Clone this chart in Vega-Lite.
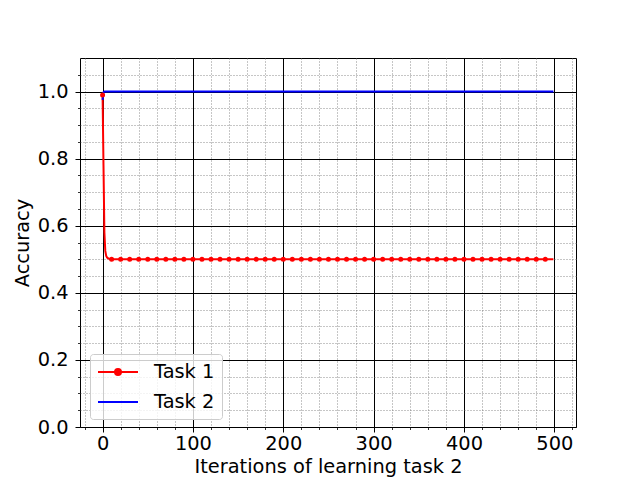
{
  "$schema": "https://vega.github.io/schema/vega-lite/v6.json",
  "width": 496,
  "height": 369,
  "autosize": "none",
  "padding": {"left": 80, "top": 58, "right": 64, "bottom": 53},
  "config": {
    "font": "DejaVu Sans",
    "view": {"stroke": "black", "strokeWidth": 1},
    "axis": {"labelColor": "black", "titleColor": "black", "tickColor": "black", "labelFont": "DejaVu Sans", "titleFont": "DejaVu Sans", "titleFontWeight": "normal"}
  },
  "data": {
    "values": [
      {"iter": 0, "acc": 0.99, "task": "Task 1"},
      {"iter": 1, "acc": 0.78, "task": "Task 1"},
      {"iter": 2, "acc": 0.58, "task": "Task 1"},
      {"iter": 3, "acc": 0.525, "task": "Task 1"},
      {"iter": 4, "acc": 0.51, "task": "Task 1"},
      {"iter": 5, "acc": 0.505, "task": "Task 1"},
      {"iter": 6, "acc": 0.503, "task": "Task 1"},
      {"iter": 7, "acc": 0.502, "task": "Task 1"},
      {"iter": 8, "acc": 0.501, "task": "Task 1"},
      {"iter": 10, "acc": 0.5, "task": "Task 1"},
      {"iter": 20, "acc": 0.5, "task": "Task 1"},
      {"iter": 30, "acc": 0.5, "task": "Task 1"},
      {"iter": 40, "acc": 0.5, "task": "Task 1"},
      {"iter": 50, "acc": 0.5, "task": "Task 1"},
      {"iter": 60, "acc": 0.5, "task": "Task 1"},
      {"iter": 70, "acc": 0.5, "task": "Task 1"},
      {"iter": 80, "acc": 0.5, "task": "Task 1"},
      {"iter": 90, "acc": 0.5, "task": "Task 1"},
      {"iter": 100, "acc": 0.5, "task": "Task 1"},
      {"iter": 110, "acc": 0.5, "task": "Task 1"},
      {"iter": 120, "acc": 0.5, "task": "Task 1"},
      {"iter": 130, "acc": 0.5, "task": "Task 1"},
      {"iter": 140, "acc": 0.5, "task": "Task 1"},
      {"iter": 150, "acc": 0.5, "task": "Task 1"},
      {"iter": 160, "acc": 0.5, "task": "Task 1"},
      {"iter": 170, "acc": 0.5, "task": "Task 1"},
      {"iter": 180, "acc": 0.5, "task": "Task 1"},
      {"iter": 190, "acc": 0.5, "task": "Task 1"},
      {"iter": 200, "acc": 0.5, "task": "Task 1"},
      {"iter": 210, "acc": 0.5, "task": "Task 1"},
      {"iter": 220, "acc": 0.5, "task": "Task 1"},
      {"iter": 230, "acc": 0.5, "task": "Task 1"},
      {"iter": 240, "acc": 0.5, "task": "Task 1"},
      {"iter": 250, "acc": 0.5, "task": "Task 1"},
      {"iter": 260, "acc": 0.5, "task": "Task 1"},
      {"iter": 270, "acc": 0.5, "task": "Task 1"},
      {"iter": 280, "acc": 0.5, "task": "Task 1"},
      {"iter": 290, "acc": 0.5, "task": "Task 1"},
      {"iter": 300, "acc": 0.5, "task": "Task 1"},
      {"iter": 310, "acc": 0.5, "task": "Task 1"},
      {"iter": 320, "acc": 0.5, "task": "Task 1"},
      {"iter": 330, "acc": 0.5, "task": "Task 1"},
      {"iter": 340, "acc": 0.5, "task": "Task 1"},
      {"iter": 350, "acc": 0.5, "task": "Task 1"},
      {"iter": 360, "acc": 0.5, "task": "Task 1"},
      {"iter": 370, "acc": 0.5, "task": "Task 1"},
      {"iter": 380, "acc": 0.5, "task": "Task 1"},
      {"iter": 390, "acc": 0.5, "task": "Task 1"},
      {"iter": 400, "acc": 0.5, "task": "Task 1"},
      {"iter": 410, "acc": 0.5, "task": "Task 1"},
      {"iter": 420, "acc": 0.5, "task": "Task 1"},
      {"iter": 430, "acc": 0.5, "task": "Task 1"},
      {"iter": 440, "acc": 0.5, "task": "Task 1"},
      {"iter": 450, "acc": 0.5, "task": "Task 1"},
      {"iter": 460, "acc": 0.5, "task": "Task 1"},
      {"iter": 470, "acc": 0.5, "task": "Task 1"},
      {"iter": 480, "acc": 0.5, "task": "Task 1"},
      {"iter": 490, "acc": 0.5, "task": "Task 1"},
      {"iter": 499, "acc": 0.5, "task": "Task 1"},
      {"iter": 0, "acc": 0.975, "task": "Task 2"},
      {"iter": 1, "acc": 0.998, "task": "Task 2"},
      {"iter": 2, "acc": 1.0, "task": "Task 2"},
      {"iter": 499, "acc": 1.0, "task": "Task 2"}
    ]
  },
  "layer": [
    {
      "mark": {"type": "line", "strokeWidth": 2},
      "encoding": {
        "x": {
          "field": "iter", "type": "quantitative",
          "scale": {"domain": [-25, 524], "nice": false, "zero": false},
          "axis": {
            "orient": "bottom",
            "values": [-20, 20, 40, 60, 80, 120, 140, 160, 180, 220, 240, 260, 280, 320, 340, 360, 380, 420, 440, 460, 480, 520],
            "labels": false, "title": null, "domain": false,
            "tickSize": 2.5, "tickWidth": 0.8,
            "grid": true, "gridColor": "#707070", "gridDash": [1, 2], "gridWidth": 0.8, "gridOpacity": 1
          }
        },
        "y": {
          "field": "acc", "type": "quantitative",
          "scale": {"domain": [0, 1.1], "nice": false},
          "axis": {
            "orient": "left",
            "values": [0.05, 0.1, 0.15, 0.25, 0.3, 0.35, 0.45, 0.5, 0.55, 0.65, 0.7, 0.75, 0.85, 0.9, 0.95, 1.05],
            "labels": false, "title": null, "domain": false,
            "tickSize": 2.5, "tickWidth": 0.8,
            "grid": true, "gridColor": "#707070", "gridDash": [1, 2], "gridWidth": 0.8, "gridOpacity": 1
          }
        },
        "color": {
          "field": "task", "type": "nominal",
          "scale": {"domain": ["Task 1", "Task 2"], "range": ["#ff0000", "#0000ff"]},
          "legend": {
            "title": null,
            "orient": "none",
            "legendX": 10,
            "legendY": 296,
            "symbolType": "stroke",
            "symbolSize": 400,
            "symbolOffset": 10,
            "symbolStrokeWidth": 2,
            "labelFontSize": 19.4,
            "labelColor": "black",
            "labelOffset": 25,
            "rowPadding": 9,
            "padding": 7,
            "strokeColor": "#cccccc",
            "fillColor": "rgba(255,255,255,0.8)",
            "cornerRadius": 3,
            "encode": {
              "symbols": {
                "update": {
                  "shape": {"signal": "datum.value === 'Task 1' ? 'M-2,0H2M-0.3,0A0.3,0.3,0,1,0,0.3,0A0.3,0.3,0,1,0,-0.3,0Z' : 'M-2,0H2'"},
                  "fill": {"signal": "datum.value === 'Task 1' ? '#ff0000' : 'transparent'"}
                }
              }
            }
          }
        }
      }
    },
    {
      "transform": [
        {"filter": "datum.task === 'Task 1' && datum.iter % 10 === 0"}
      ],
      "mark": {"type": "point", "filled": true, "size": 25, "opacity": 1},
      "encoding": {
        "x": {
          "field": "iter", "type": "quantitative",
          "axis": {
            "orient": "bottom",
            "values": [0, 100, 200, 300, 400, 500],
            "title": "Iterations of learning task 2",
            "titleFontSize": 19.4, "labelFontSize": 19.4,
            "domain": false, "tickSize": 5, "tickWidth": 1,
            "labelPadding": 2, "titlePadding": 5,
            "grid": true, "gridColor": "black", "gridWidth": 1, "gridOpacity": 1
          }
        },
        "y": {
          "field": "acc", "type": "quantitative",
          "axis": {
            "orient": "left",
            "values": [0, 0.2, 0.4, 0.6, 0.8, 1.0],
            "format": ".1f",
            "title": "Accuracy",
            "titleFontSize": 19.4, "labelFontSize": 19.4,
            "domain": false, "tickSize": 5, "tickWidth": 1,
            "labelPadding": 7, "titlePadding": 5,
            "grid": true, "gridColor": "black", "gridWidth": 1, "gridOpacity": 1
          }
        },
        "color": {"field": "task", "type": "nominal", "legend": null}
      }
    }
  ],
  "resolve": {"axis": {"x": "independent", "y": "independent"}}
}
